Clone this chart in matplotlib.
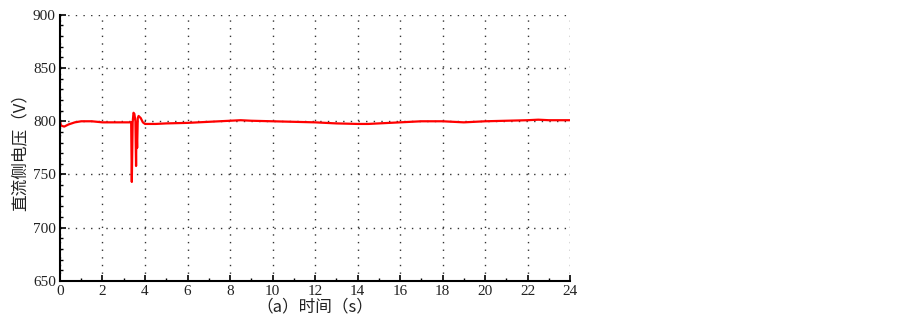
import numpy as np
import matplotlib.pyplot as plt
from matplotlib.ticker import MultipleLocator

# data
t = [0.0, 0.05, 0.2, 0.4, 0.7, 1.0, 1.5, 2.0, 2.5, 3.0, 3.35, 3.38, 3.42, 3.46,
     3.5, 3.55, 3.58, 3.6, 3.63, 3.66, 3.7, 3.75, 3.8, 3.9, 4.0, 4.5, 5.0,
     6.0, 7.0, 8.0, 8.5, 9.0, 10.0, 11.0, 12.0, 13.0, 14.0, 14.5, 15.0,
     16.0, 17.0, 18.0, 19.0, 19.5, 20.0, 21.0, 22.0, 22.5, 23.0, 24.0]
v = [800, 796, 795, 797, 799, 800, 800, 799, 799, 799, 799, 743, 799, 808,
     807, 800, 758, 795, 775, 803, 805, 804, 803, 799, 797.5, 797.5, 798,
     798.5, 799.5, 800.5, 801, 800.5, 800, 799.5, 799, 798, 797.5, 797.5, 798,
     799, 800, 800, 799, 799.5, 800, 800.5, 801, 801.5, 801, 801]

xticks = np.arange(0, 25, 2)
yticks = np.arange(650, 901, 50)

fig = plt.figure(figsize=(9.03, 3.16), dpi=100)
ax = fig.add_axes([0.0664, 0.111, 0.565, 0.842])

ax.plot(t, v, color="red", lw=1.6)

ax.set_xlim(0, 24)
ax.set_ylim(650, 900)
ax.set_xticks(xticks)
ax.set_yticks(yticks)
ax.xaxis.set_minor_locator(MultipleLocator(1))
ax.yaxis.set_minor_locator(MultipleLocator(10))
ax.tick_params(which="both", direction="in", top=False, right=False)
ax.tick_params(which="major", length=4, width=1.2, labelsize=11, pad=3,
               labelcolor="#222222")
ax.tick_params(which="minor", length=2.5, width=1.0)
for lab in ax.get_xticklabels() + ax.get_yticklabels():
    lab.set_family("Liberation Serif")

ax.grid(True, which="major", linestyle=(0, (1, 4.5)), color="#333333", lw=1.0)
ax.spines["top"].set_visible(False)
ax.spines["right"].set_visible(False)
ax.spines["left"].set_linewidth(1.5)
ax.spines["bottom"].set_linewidth(1.5)

ax.set_xlabel("（a）时间（s）", family=["Noto Sans CJK SC", "DejaVu Sans"],
              fontsize=12, labelpad=0, color="#222222")
ax.set_ylabel("直流侧电压（V）", family=["Noto Sans CJK SC", "DejaVu Sans"],
              fontsize=12, labelpad=3, color="#222222")

fig.savefig("out.png", dpi=100)
